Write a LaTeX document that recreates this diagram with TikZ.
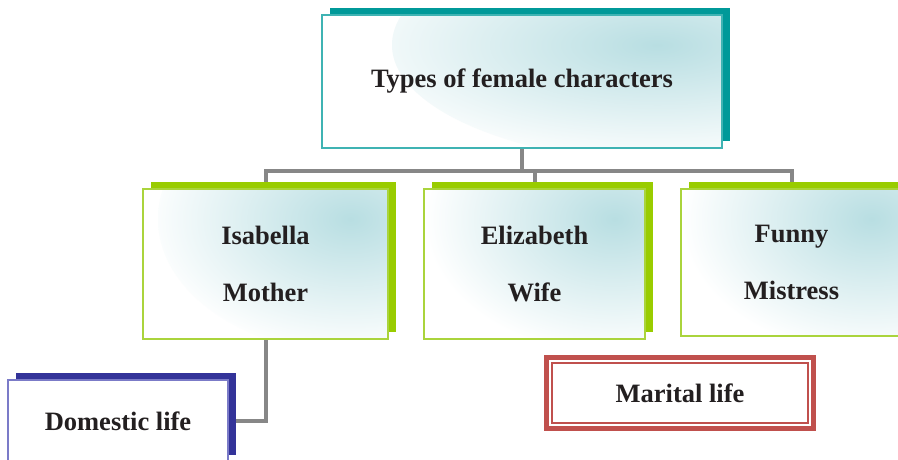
\documentclass[tikz,border=0pt]{standalone}
\usepackage{fontspec}
\setmainfont{Liberation Serif}
\usetikzlibrary{shadows,backgrounds}

\definecolor{tealshadow}{HTML}{009999}
\definecolor{tealline}{HTML}{3FB3B3}
\definecolor{greenshadow}{HTML}{99CC00}
\definecolor{greenline}{HTML}{AAD43C}
\definecolor{blueshadow}{HTML}{333399}
\definecolor{blueline}{HTML}{7B7BC8}
\definecolor{redframe}{HTML}{C0504D}
\definecolor{boxfill}{HTML}{B8DEE2}
\definecolor{linkgray}{HTML}{878787}
\definecolor{textdark}{HTML}{231F20}

\tikzset{
	labelbox/.style={rectangle, fill=white, line width=1.5pt, inner sep=0pt, align=center,
		text=textdark, font=\bfseries\fontsize{26.5}{57}\selectfont},
	fadebox/.style={path picture={\shade[inner color=boxfill, outer color=white]
		([xshift=-30pt,yshift=-30pt]path picture bounding box.north east) ellipse (#1);}},
	backshadow/.style={general shadow={fill=#1, shadow xshift=8pt, shadow yshift=7pt}},
	link/.style={draw=linkgray, line width=4pt}
}

\begin{document}
\begin{tikzpicture}[x=1pt, y=-1pt]
		%%%%% START %%%%%
		
		\clip (0, 0) rectangle (898, 459);
		
		% title
		\node[labelbox, draw=tealline, backshadow=tealshadow, fadebox=300pt and 120pt,
			minimum width=400pt, minimum height=133pt] (types) at (522, 81.5) {Types of female characters};
		
		% the three characters
		\node[labelbox, draw=greenline, backshadow=greenshadow, fadebox=200pt and 135pt,
			minimum width=245pt, minimum height=150pt] (isabella) at (265.5, 264) {Isabella\\Mother};
		\node[labelbox, draw=greenline, backshadow=greenshadow, fadebox=190pt and 135pt,
			minimum width=221pt, minimum height=150pt] (elizabeth) at (534.5, 264) {Elizabeth\\Wife};
		\node[labelbox, draw=greenline, backshadow=greenshadow, fadebox=190pt and 135pt,
			minimum width=221pt, minimum height=147pt] (funny) at (791.5, 262.5) {Funny\\Mistress};
		
		% lives
		\node[labelbox, draw=blueline, backshadow=blueshadow,
			minimum width=220pt, minimum height=82pt] (domestic) at (118, 421) {Domestic life};
		\node[labelbox, draw=redframe, line width=5pt,
			minimum width=267pt, minimum height=71pt,
			path picture={\draw[redframe, line width=1.4pt]
				([shift={(5.5pt,-5.5pt)}]path picture bounding box.north west) rectangle
				([shift={(-5.5pt,5.5pt)}]path picture bounding box.south east);}] (marital) at (680, 393) {Marital life};
		
		% connectors
		\begin{scope}[on background layer]
			\coordinate (bus) at (522, 171);
			\draw[link] (types.south) -- (bus);
			\draw[link] (isabella.north) |- (bus) -| (funny.north);
			\draw[link] (elizabeth.north) -- (elizabeth.north |- bus);
			\draw[link] (isabella.south) |- (domestic.east);
		\end{scope}
		
		%%%%% END %%%%%
	\end{tikzpicture}
\end{document}
